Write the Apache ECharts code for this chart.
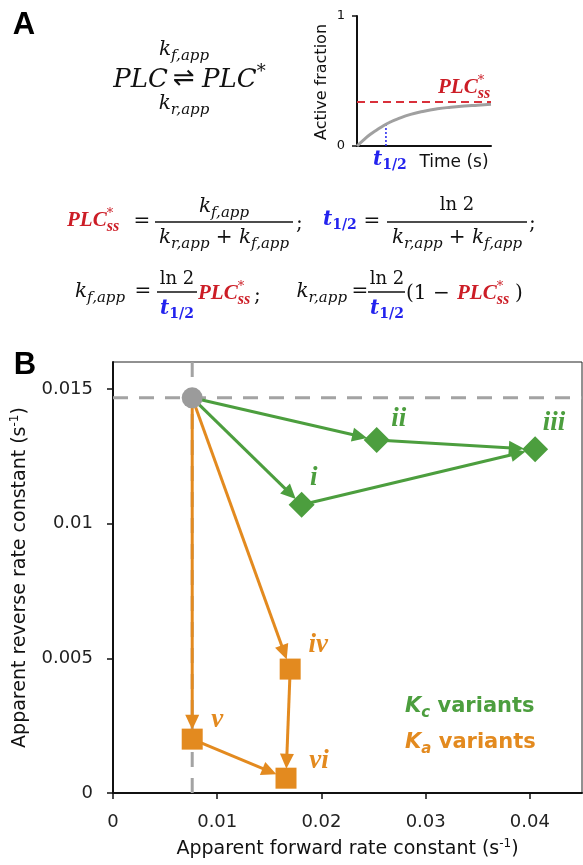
<!DOCTYPE html>
<html>
<head>
<meta charset="utf-8">
<script src="https://cdn.jsdelivr.net/npm/echarts@6/dist/echarts.min.js"></script>
<style>
  html, body { margin: 0; padding: 0; background: #fff; }
  #main { width: 583px; height: 865px; }
</style>
</head>
<body>
<div id="main"></div>
<script>
// ---- data ----
const variantNames = ['WT', 'i', 'ii', 'iii', 'iv', 'v', 'vi'];
const kForward = [0.0076, 0.0181, 0.0253, 0.0405, 0.0170, 0.0076, 0.0166];
const kReverse = [0.01467, 0.0107, 0.0131, 0.01276, 0.0046, 0.0020, 0.00055];
const kcNames = ['i', 'ii', 'iii'];
const kaNames = ['iv', 'v', 'vi'];
const kcArrows = [['WT', 'i'], ['WT', 'ii'], ['ii', 'iii'], ['i', 'iii']];
const kaArrows = [['WT', 'iv'], ['WT', 'v'], ['iv', 'vi'], ['v', 'vi']];
const xTickValues = [0, 0.01, 0.02, 0.03, 0.04];
const yTickValues = [0, 0.005, 0.01, 0.015];

// inset schematic (panel A)
const insetTime = [0, 0.5, 1, 1.5, 2, 2.5, 3, 4, 5, 6, 7, 8, 9, 10];
const insetActive = [0, 0.048, 0.09, 0.125, 0.158, 0.185, 0.207, 0.243, 0.268, 0.286, 0.298, 0.307, 0.314, 0.321];
const insetPlcSS = 0.338;
const insetTHalf = 2.16;

const GREEN = '#4c9e3e';
const ORANGE = '#e38a1f';
const RED = '#cc1d26';
const BLUE = '#2323ee';

// ---- little text layout helper for the equations ----
const ctx2d = document.createElement('canvas').getContext('2d');
function fnt(style, weight, size, family, fill) {
    return { fontStyle: style, fontWeight: weight, fontSize: size, fontFamily: family, fill: fill };
}
function tw(s, f) {
    ctx2d.font = f.fontStyle + ' ' + f.fontWeight + ' ' + f.fontSize + 'px ' + f.fontFamily;
    return ctx2d.measureText(s).width;
}
function txt(x, y, s, f) {
    return {
        type: 'text', x: x, y: y, silent: true, z: 10,
        style: {
            text: s, fontStyle: f.fontStyle, fontWeight: f.fontWeight, fontSize: f.fontSize,
            fontFamily: f.fontFamily, fill: f.fill, align: 'left', verticalAlign: 'middle'
        }
    };
}
// parts: [text, font, dy, stack]
function run(x, y, parts) {
    let cx = x;
    const els = [];
    parts.forEach(function (p) {
        els.push(txt(cx, y + (p[2] || 0), p[0], p[1]));
        if (!p[3]) cx += tw(p[0], p[1]);
    });
    return { els: els, w: cx - x };
}
function centered(cx, y, parts) {
    const w = run(0, 0, parts).w;
    return run(cx - w / 2, y, parts).els;
}
function rightTo(xEnd, y, parts) {
    const w = run(0, 0, parts).w;
    return run(xEnd - w, y, parts).els;
}
function bar(x1, x2, y) {
    return { type: 'line', silent: true, z: 10, shape: { x1: x1, y1: y, x2: x2, y2: y }, style: { stroke: '#111', lineWidth: 1.4 } };
}

const SERIF = '"DejaVu Serif"';
const TIMES = '"Liberation Serif"';
const SANS = '"DejaVu Sans"';
const fBig = fnt('italic', 'normal', 26, SERIF, '#111');
const fStarBig = fnt('normal', 'normal', 18, SERIF, '#111');
const fM = fnt('italic', 'normal', 20, SERIF, '#111');
const fMs = fnt('italic', 'normal', 15, SERIF, '#111');
const fR = fnt('normal', 'normal', 20, SERIF, '#111');
const fLn = fnt('normal', 'normal', 18, SERIF, '#111');
const fArrow = fnt('normal', 'normal', 26, SANS, '#111');
const fPlc = fnt('italic', 'bold', 21, TIMES, RED);
const fPlcS = fnt('italic', 'bold', 16, TIMES, RED);
const fStar = fnt('normal', 'normal', 13, SERIF, RED);
const fT = fnt('italic', 'bold', 20, SERIF, BLUE);
const fTs = fnt('normal', 'bold', 14, SERIF, BLUE);

function kApp(sub) { return [['k', fM, 0], [sub, fMs, 6]]; }
const plcSS = [['PLC', fPlc, 0], ['*', fStar, -7, true], ['ss', fPlcS, 6]];
const tHalf = [['t', fT, 0], ['1/2', fTs, 5]];

const eq = [];
function add(list) { list.forEach(function (e) { eq.push(e); }); }

// panel letters
eq.push({ type: 'text', x: 24, y: 25, silent: true, style: { text: 'A', fontFamily: 'Liberation Sans', fontWeight: 'bold', fontSize: 31, fill: '#000', align: 'center', verticalAlign: 'middle' } });
eq.push({ type: 'text', x: 25, y: 365, silent: true, style: { text: 'B', fontFamily: 'Liberation Sans', fontWeight: 'bold', fontSize: 31, fill: '#000', align: 'center', verticalAlign: 'middle' } });

// reaction
add(centered(184, 50, kApp('f,app')));
add(rightTo(168, 80, [['PLC', fBig, 0]]));
add(centered(184, 79, [['\u21CC', fArrow, 0]]));
add(run(202, 80, [['PLC', fBig, 0], ['*', fStarBig, -8]]).els);
add(centered(184, 104, kApp('r,app')));

// row 1
add(run(67, 221, plcSS).els);
add(centered(142, 222, [['=', fR, 0]]));
eq.push(bar(155, 293, 222));
add(centered(224, 207, kApp('f,app')));
add(centered(224, 238, kApp('r,app').concat([[' + ', fR, 0]], kApp('f,app'))));
add(run(296, 224, [[';', fR, 0]]).els);
add(run(323, 220, tHalf).els);
add(centered(372, 222, [['=', fR, 0]]));
eq.push(bar(387, 527, 222));
add(centered(457, 205, [['ln 2', fLn, 0]]));
add(centered(457, 238, kApp('r,app').concat([[' + ', fR, 0]], kApp('f,app'))));
add(run(529, 224, [[';', fR, 0]]).els);

// row 2
add(run(75, 292, kApp('f,app')).els);
add(centered(143, 292, [['=', fR, 0]]));
eq.push(bar(157, 197, 292));
add(centered(177, 279, [['ln 2', fLn, 0]]));
add(centered(177, 309, tHalf));
add(run(198, 294, plcSS).els);
add(run(254, 296, [[';', fR, 0]]).els);
add(rightTo(347, 292, kApp('r,app')));
add(centered(360, 292, [['=', fR, 0]]));
eq.push(bar(368, 405, 292));
add(centered(387, 279, [['ln 2', fLn, 0]]));
add(centered(387, 309, tHalf));
add(run(406, 294, [['(1 \u2212 ', fR, 0]]).els);
add(run(457, 294, plcSS).els);
add(run(515, 294, [[')', fR, 0]]).els);

// inset labels
add(run(438, 88, plcSS).els);
add(run(373, 160, tHalf).els);
eq.push({ type: 'text', x: 454, y: 163, silent: true, style: { text: 'Time (s)', fontFamily: SANS, fontSize: 17, fill: '#111', align: 'center', verticalAlign: 'middle' } });
eq.push({ type: 'text', x: 322, y: 82, rotation: Math.PI / 2, silent: true, style: { text: 'Active fraction', fontFamily: SANS, fontSize: 16, fill: '#111', align: 'center', verticalAlign: 'middle' } });

// legend of panel B
const fLegK = fnt('italic', 'bold', 21, SANS, GREEN);
const fLegS = fnt('italic', 'bold', 15, SANS, GREEN);
const fLegT = fnt('normal', 'bold', 21, SANS, GREEN);
add(run(405, 707, [['K', fLegK, 0], ['c', fLegS, 6], [' variants', fLegT, 0]]).els);
const oK = Object.assign({}, fLegK, { fill: ORANGE });
const oS = Object.assign({}, fLegS, { fill: ORANGE });
const oT = Object.assign({}, fLegT, { fill: ORANGE });
add(run(405, 743, [['K', oK, 0], ['a', oS, 6], [' variants', oT, 0]]).els);

// ---- panel B data helpers ----
function pt(name) {
    const i = variantNames.indexOf(name);
    return [kForward[i], kReverse[i]];
}
function edgeData(edges) {
    return edges.map(function (e) { return pt(e[0]).concat(pt(e[1])); });
}
const labelOffset = { i: [12, -27], ii: [22, -21], iii: [19, -26], iv: [28, -24], v: [25, -19], vi: [33, -17] };
function pointData(names) {
    return names.map(function (n) {
        return { name: n, value: pt(n), label: { offset: labelOffset[n] } };
    });
}

function arrowRenderer(shape, color) {
    return function (params, api) {
        const p1 = api.coord([api.value(0), api.value(1)]);
        const p2 = api.coord([api.value(2), api.value(3)]);
        const dx = p2[0] - p1[0], dy = p2[1] - p1[1];
        const len = Math.sqrt(dx * dx + dy * dy);
        const ux = dx / len, uy = dy / len;
        const r = shape === 'diamond'
            ? 13 / (Math.abs(ux) + Math.abs(uy))
            : 10.5 / Math.max(Math.abs(ux), Math.abs(uy));
        const tip = [p2[0] - ux * (r - 1), p2[1] - uy * (r - 1)];
        const L = 15, H = 7;
        const base = [tip[0] - ux * L, tip[1] - uy * L];
        return {
            type: 'group',
            children: [
                { type: 'line', shape: { x1: p1[0], y1: p1[1], x2: base[0] + ux * 3, y2: base[1] + uy * 3 }, style: { stroke: color, lineWidth: 3 } },
                { type: 'polygon', shape: { points: [tip, [base[0] - uy * H, base[1] + ux * H], [base[0] + uy * H, base[1] - ux * H]] }, style: { fill: color } }
            ]
        };
    };
}

// dashed cross-hair through the WT point, spanning the whole plot area
function crossRenderer(params, api) {
    const c = api.coord([api.value(0), api.value(1)]);
    const cs = params.coordSys;
    const st = { stroke: '#a3a3a3', lineWidth: 3, lineDash: [15, 11] };
    return {
        type: 'group',
        children: [
            { type: 'line', shape: { x1: cs.x, y1: c[1], x2: cs.x + cs.width, y2: c[1] }, style: st },
            { type: 'line', shape: { x1: c[0], y1: cs.y, x2: c[0], y2: cs.y + cs.height }, style: st }
        ]
    };
}

const tickFont = { fontFamily: SANS, fontSize: 18, color: '#222' };
const nameStyle = {
    fontFamily: SANS, fontSize: 19, color: '#111', lineHeight: 22,
    rich: { sup: { fontFamily: SANS, fontSize: 12, color: '#111', lineHeight: 12, verticalAlign: 'top' } }
};
const labelStyle = { fontFamily: 'Liberation Serif', fontStyle: 'italic', fontWeight: 'bold', fontSize: 27 };

const chart = echarts.init(document.getElementById('main'));
chart.setOption({
    backgroundColor: '#fff',
    animation: false,
    graphic: eq,
    grid: [
        { left: 113, top: 362, right: 1, bottom: 68, show: true, borderColor: '#222', borderWidth: 1 },
        { left: 357, top: 16, width: 134, height: 130 }
    ],
    xAxis: [
        {
            type: 'value', gridIndex: 0, min: 0, max: 0.045, interval: 0.01,
            name: 'Apparent forward rate constant (s{sup|-1})', nameLocation: 'middle', nameGap: 45,
            nameTextStyle: nameStyle,
            axisLine: { lineStyle: { color: '#111', width: 2 } },
            axisTick: { length: 6, lineStyle: { color: '#111', width: 1.5 } },
            axisLabel: Object.assign({ margin: 20, showMaxLabel: false, formatter: function (v) { return xTickValues.indexOf(+v.toFixed(4)) >= 0 ? String(+v.toFixed(4)) : ''; } }, tickFont),
            splitLine: { show: false }
        },
        {
            type: 'value', gridIndex: 1, min: 0, max: 10,
            axisLine: { lineStyle: { color: '#111', width: 2 } },
            axisTick: { show: false }, axisLabel: { show: false }, splitLine: { show: false }
        }
    ],
    yAxis: [
        {
            type: 'value', gridIndex: 0, min: 0, max: 0.016, interval: 0.005,
            name: 'Apparent reverse rate constant (s{sup|-1})', nameLocation: 'middle', nameGap: 80,
            nameTextStyle: nameStyle,
            axisLine: { show: true, lineStyle: { color: '#111', width: 2 } },
            axisTick: { show: true, length: 6, lineStyle: { color: '#111', width: 1.5 } },
            axisLabel: Object.assign({ margin: 20, showMaxLabel: false, formatter: function (v) { return yTickValues.indexOf(+v.toFixed(4)) >= 0 ? String(+v.toFixed(4)) : ''; } }, tickFont),
            splitLine: { show: false }
        },
        {
            type: 'value', gridIndex: 1, min: 0, max: 1, interval: 1,
            axisLine: { show: true, lineStyle: { color: '#111', width: 2 } },
            axisTick: { show: true, length: 5, lineStyle: { color: '#111', width: 1.5 } },
            axisLabel: { margin: 12, fontFamily: SANS, fontSize: 13, color: '#111' },
            splitLine: { show: false }
        }
    ],
    series: [
        {
            type: 'custom', xAxisIndex: 0, yAxisIndex: 0, z: 1, silent: true,
            renderItem: crossRenderer, data: [pt('WT')]
        },
        {
            type: 'custom', xAxisIndex: 0, yAxisIndex: 0, z: 2,
            encode: { x: [0, 2], y: [1, 3] },
            renderItem: arrowRenderer('diamond', GREEN), data: edgeData(kcArrows)
        },
        {
            type: 'custom', xAxisIndex: 0, yAxisIndex: 0, z: 2,
            encode: { x: [0, 2], y: [1, 3] },
            renderItem: arrowRenderer('rect', ORANGE), data: edgeData(kaArrows)
        },
        {
            type: 'scatter', xAxisIndex: 0, yAxisIndex: 0, z: 3,
            symbol: 'circle', symbolSize: 21, itemStyle: { color: '#9b9b9b', opacity: 1 },
            data: [pt('WT')]
        },
        {
            type: 'scatter', xAxisIndex: 0, yAxisIndex: 0, z: 3,
            symbol: 'diamond', symbolSize: 26, itemStyle: { color: GREEN, opacity: 1 },
            label: Object.assign({ show: true, position: 'inside', color: GREEN, formatter: '{b}' }, labelStyle),
            data: pointData(kcNames)
        },
        {
            type: 'scatter', xAxisIndex: 0, yAxisIndex: 0, z: 3,
            symbol: 'rect', symbolSize: 21, itemStyle: { color: ORANGE, opacity: 1 },
            label: Object.assign({ show: true, position: 'inside', color: ORANGE, formatter: '{b}' }, labelStyle),
            data: pointData(kaNames)
        },
        // inset curve
        {
            type: 'line', xAxisIndex: 1, yAxisIndex: 1, smooth: true, showSymbol: false, z: 3,
            lineStyle: { color: '#a0a0a0', width: 3 },
            data: insetTime.map(function (t, i) { return [t, insetActive[i]]; }),
            markLine: {
                silent: true, symbol: 'none', label: { show: false }, precision: 6,
                lineStyle: { color: '#d9303a', width: 2, type: [8, 5] },
                data: [{ yAxis: insetPlcSS }]
            }
        },
        {
            type: 'line', xAxisIndex: 1, yAxisIndex: 1, showSymbol: false, z: 2,
            lineStyle: { color: BLUE, width: 1.5, type: [2, 2] },
            data: [[insetTHalf, 0], [insetTHalf, insetPlcSS / 2]]
        }
    ]
});
</script>
</body>
</html>
